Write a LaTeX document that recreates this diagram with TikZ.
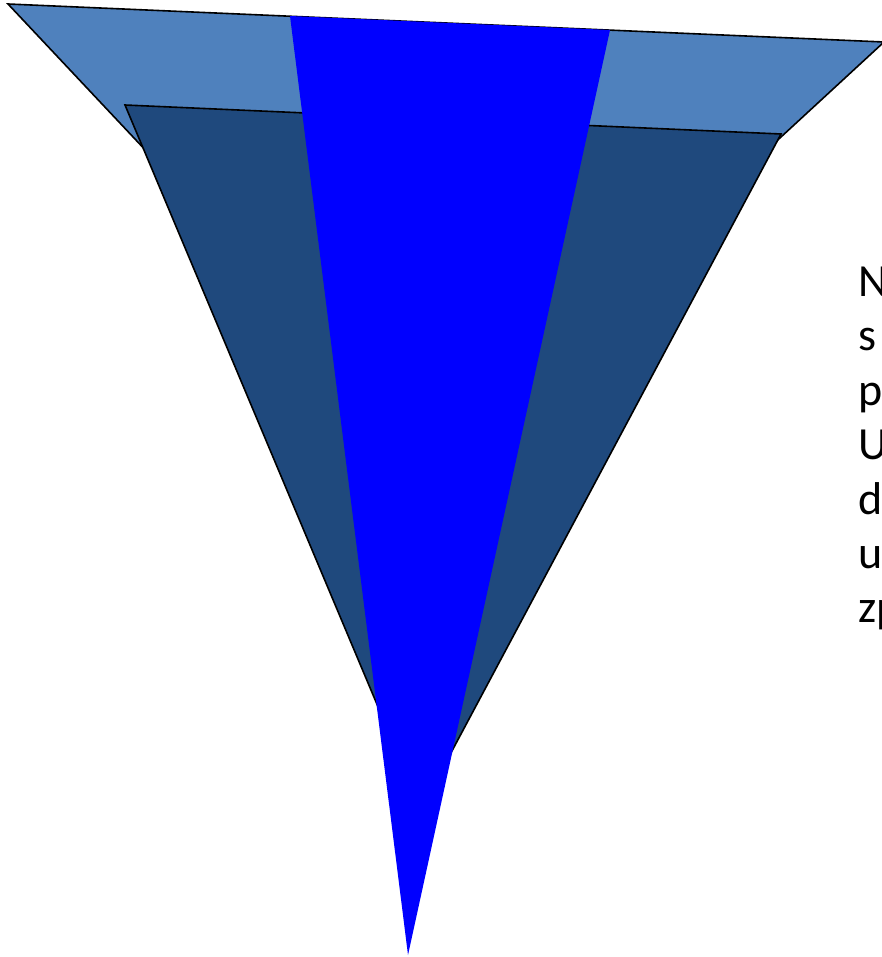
\documentclass[tikz,border=0pt]{standalone}
\usepackage{fontspec}
\setmainfont{Carlito}
\definecolor{lightfunnel}{HTML}{4F81BD}
\definecolor{darkfunnel}{HTML}{1F497D}
\definecolor{purefunnel}{HTML}{0000FF}
\begin{document}
\begin{tikzpicture}[x=1pt,y=-1pt,
  outerlayer/.style={fill=lightfunnel,draw=black,line width=1.6pt,line join=miter},
  innerlayer/.style={fill=darkfunnel,draw=black,line width=1.6pt,line join=miter},
  corelayer/.style={fill=purefunnel,draw=none},
  sidetext/.style={anchor=base west,inner sep=0pt,font=\fontsize{46}{55}\selectfont,text=black}]
\useasboundingbox (0,0) rectangle (882,957);
\fill[white] (0,0) rectangle (882,957);
% outer (light) funnel
\draw[outerlayer] (8,4) -- (884,42) -- (434,457) -- cycle;
% inner (dark) funnel
\draw[innerlayer] (125,105) -- (781,134) -- (421,809) -- cycle;
% core (bright blue) funnel
\fill[corelayer] (290,16) -- (610,30) -- (408,955) -- cycle;
% clipped text on the right
\node[sidetext] (t1) at (858,296) {N};
\node[sidetext] (t2) at (858,350) {s};
\node[sidetext] (t3) at (858,405) {p};
\node[sidetext] (t4) at (858,459) {U};
\node[sidetext] (t5) at (858,514) {d};
\node[sidetext] (t6) at (858,568) {u};
\node[sidetext] (t7) at (858,622) {zp};
\end{tikzpicture}
\end{document}
